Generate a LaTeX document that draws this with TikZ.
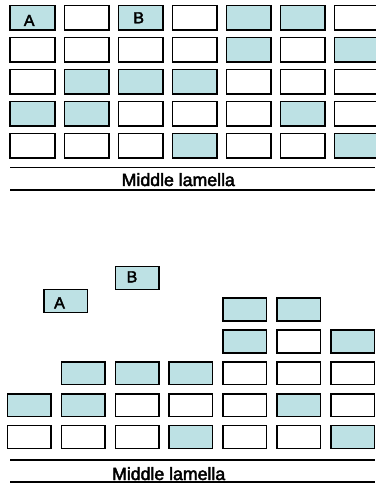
\documentclass[tikz,border=0pt]{standalone}
\usepackage{fontspec}
\setmainfont{Liberation Sans}
\newfontfamily\heavysans[FakeBold=2.5]{Liberation Sans}
\definecolor{wallblue}{RGB}{189,225,228}

\begin{document}
\begin{tikzpicture}[x=1bp,y=-1bp,
        cell/.style={draw=black, line width=1.5bp, inner sep=0pt,
            minimum width=44.5bp, minimum height=24.5bp},
        cell0/.style={cell, fill=white},
        cell1/.style={cell, fill=wallblue},
        small/.style={minimum width=43.5bp, minimum height=22.8bp},
        letter/.style={anchor=base, inner sep=0pt, font=\heavysans\fontsize{16bp}{18bp}\selectfont},
        lamella/.style={anchor=base, inner sep=0pt, font=\heavysans\fontsize{17.7bp}{20bp}\selectfont}]
    \useasboundingbox (0,0) rectangle (375,483);

    \foreach \row [count=\r] in {{1,0,1,0,1,1,0},{0,0,0,0,1,0,1},{0,1,1,1,0,0,0},{1,1,0,0,0,1,0},{0,0,0,1,0,0,1}}
        \foreach \f [count=\c] in \row
            \node[cell\f] (t\r\c) at ({32.5+54*(\c-1)},{18+31.9*(\r-1)}) {};

    \node[letter] (topA) at (29.2,26) {A};
    \node[letter] (topB) at (138.7,23.3) {B};

    \coordinate (tl1) at (10,167.3);
    \coordinate (tr1) at (375,167.3);
    \coordinate (tl2) at (10,190);
    \coordinate (tr2) at (375,190);
    \draw[line width=1.3bp] (tl1) -- (tr1);
    \draw[line width=2.2bp] (tl2) -- (tr2);
    \node[lamella] (toplabel) at (178.3,186) {Middle lamella};

    \node[cell1, small] (bA) at (65.5,301) {};
    \node[cell1, small] (bB) at (137,278) {};
    \node[letter] (botA) at (59.5,308.3) {A};
    \node[letter] (botB) at (132,282.3) {B};

    \foreach \s/\row [count=\r] in {5/{1,1},5/{1,0,1},2/{1,1,1,0,0,0},1/{1,1,0,0,0,1,0},1/{0,0,0,1,0,0,1}}
        \foreach \f [count=\c from \s] in \row
            \node[cell\f, small] (b\r\c) at ({29.2+53.9*(\c-1)},{309.5+31.9*(\r-1)}) {};

    \coordinate (bl1) at (10,460);
    \coordinate (br1) at (375,460);
    \coordinate (bl2) at (10,482.3);
    \coordinate (br2) at (375,482.3);
    \draw[line width=1.3bp] (bl1) -- (br1);
    \draw[line width=2.2bp] (bl2) -- (br2);
    \node[lamella] (botlabel) at (168.7,480) {Middle lamella};
\end{tikzpicture}
\end{document}
